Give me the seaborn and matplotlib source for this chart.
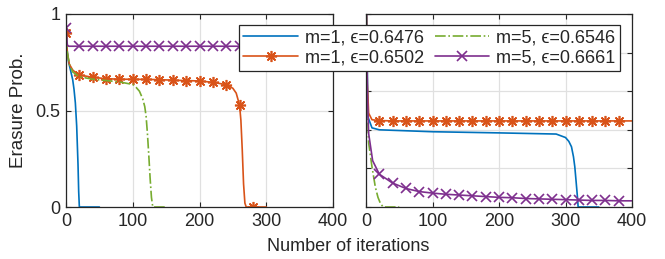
import numpy as np
import matplotlib
matplotlib.use("Agg")
import matplotlib.pyplot as plt
import seaborn as sns

# ---- data ----
labels = ["m=1, ϵ=0.6476", "m=1, ϵ=0.6502",
          "m=5, ϵ=0.6546", "m=5, ϵ=0.6661"]
colors = ["#0072BD", "#D95319", "#77AC30", "#7E2F8E"]

# left panel
l_blue_x = [0, 2, 4, 6, 8, 10, 12, 14, 16, 18, 19, 20, 50]
l_blue_y = [0.90, 0.80, 0.75, 0.72, 0.69, 0.66, 0.61, 0.54, 0.42, 0.22, 0.08, 0.0, 0.0]

l_orange_x = [0, 2, 5, 10, 15, 20, 40, 60, 80, 100, 120, 140, 160, 180, 200, 220, 240,
              250, 255, 260, 262, 264, 266, 268, 270, 280, 300]
l_orange_y = [0.90, 0.80, 0.74, 0.71, 0.695, 0.684, 0.672, 0.665, 0.662, 0.662, 0.661, 0.660,
              0.657, 0.655, 0.653, 0.646, 0.634, 0.615, 0.59, 0.528, 0.45, 0.30, 0.12, 0.02,
              0.0, 0.0, 0.0]

l_green_x = [0, 2, 5, 10, 20, 40, 60, 80, 100, 105, 110, 115, 118, 120, 122, 124, 126, 128, 130, 150]
l_green_y = [0.90, 0.80, 0.74, 0.70, 0.675, 0.662, 0.655, 0.648, 0.635, 0.62, 0.60, 0.56, 0.52,
             0.47, 0.38, 0.27, 0.15, 0.05, 0.0, 0.0]

l_purple_x = [0, 2, 4, 20, 40, 60, 80, 100, 120, 140, 160, 180, 200, 220, 240, 260, 280, 300,
              320, 340, 360, 380, 400]
l_purple_y = [0.925, 0.84, 0.833, 0.833, 0.833, 0.833, 0.833, 0.833, 0.833, 0.833, 0.833, 0.833,
              0.833, 0.833, 0.833, 0.833, 0.833, 0.833, 0.833, 0.833, 0.833, 0.833, 0.833]

# right panel
r_blue_x = [0, 3, 9, 20, 100, 200, 286, 300, 305, 309, 312, 314, 316, 318, 319, 350]
r_blue_y = [0.60, 0.233, 0.205, 0.200, 0.195, 0.192, 0.189, 0.180, 0.170, 0.156, 0.130, 0.104,
            0.065, 0.025, 0.0, 0.0]

r_orange_x = [0, 2, 4, 9, 20, 40, 60, 80, 100, 120, 140, 160, 180, 200, 220, 240, 260, 280,
              300, 320, 340, 360, 380, 400]
r_orange_y = [0.60, 0.32, 0.243, 0.226, 0.224, 0.223, 0.223, 0.223, 0.223, 0.223, 0.223, 0.223,
              0.223, 0.223, 0.223, 0.223, 0.223, 0.223, 0.223, 0.223, 0.223, 0.223, 0.223, 0.223]

r_green_x = [0, 2, 4, 9, 14, 18, 22, 26, 50]
r_green_y = [0.60, 0.26, 0.166, 0.104, 0.052, 0.025, 0.008, 0.0, 0.0]

r_purple_x = [0, 2, 4, 10, 20, 40, 60, 80, 100, 120, 140, 160, 180, 200, 220, 240, 260, 280,
              300, 320, 340, 360, 380, 400]
r_purple_y = [0.60, 0.30, 0.19, 0.12, 0.085, 0.062, 0.048, 0.040, 0.036, 0.033, 0.031, 0.029,
              0.027, 0.025, 0.024, 0.022, 0.021, 0.020, 0.019, 0.018, 0.017, 0.017, 0.016, 0.016]

left_series = [(l_blue_x, l_blue_y), (l_orange_x, l_orange_y),
               (l_green_x, l_green_y), (l_purple_x, l_purple_y)]
right_series = [(r_blue_x, r_blue_y), (r_orange_x, r_orange_y),
                (r_green_x, r_green_y), (r_purple_x, r_purple_y)]

line_styles = ["-", "-", "-.", "-"]
markers = [None, (8, 2, 0), None, "x"]
marker_sizes = [0, 8, 0, 6.5]

# ---- style ----
sns.set_style("ticks")
plt.rcParams["font.family"] = ["Liberation Sans", "DejaVu Sans"]
dark = "#262626"
fs = 13

fig = plt.figure(figsize=(6.65, 2.59), dpi=100)
ax1 = fig.add_axes([66 / 665, 1 - 207 / 259, 267 / 665, 193 / 259])
ax2 = fig.add_axes([366 / 665, 1 - 207 / 259, 266 / 665, 193 / 259])


def draw(ax, series):
    for (x, y), c, ls, mk, ms in zip(series, colors, line_styles, markers, marker_sizes):
        xa = np.asarray(x)
        sns.lineplot(x=xa, y=np.asarray(y), ax=ax, color=c, linewidth=1.2,
                     estimator=None, sort=False, legend=False)
        line = ax.get_lines()[-1]
        line.set_linestyle(ls)
        if mk:
            every = [i for i, v in enumerate(xa) if v % 20 == 0 and v < xa.max()]
            line.set_marker(mk)
            line.set_markersize(ms)
            line.set_markevery(every)
            line.set_markeredgewidth(1.2)
            line.set_markeredgecolor(c)
            line.set_markerfacecolor(c)


draw(ax1, left_series)
draw(ax2, right_series)

for ax in (ax1, ax2):
    ax.set_xlim(0, 400)
    ax.set_xticks([0, 100, 200, 300, 400])
    ax.grid(True, color="#e0e0e0", linewidth=0.9)
    ax.set_axisbelow(True)
    ax.tick_params(direction="in", top=True, right=True, length=3.5, width=0.8,
                   labelsize=fs, colors=dark, pad=4)
    for s in ax.spines.values():
        s.set_color(dark)
        s.set_linewidth(0.9)
    ax.set_xlabel("")

ax1.set_ylim(0, 1)
ax1.set_yticks([0, 0.5, 1])
ax1.set_yticklabels(["0", "0.5", "1"])
ax1.set_ylabel("Erasure Prob.", fontsize=fs + 0.5, color=dark, labelpad=6)

ax2.set_ylim(0, 0.5)
ax2.set_yticks([0, 0.1, 0.2, 0.3, 0.4, 0.5])
ax2.set_yticklabels([])

fig.text(0.523, 0.015, "Number of iterations", ha="center", va="bottom",
         fontsize=fs, color=dark)

handles = ax1.get_lines()[:4]
leg = fig.legend(handles, labels, ncol=2, loc="upper right",
                 bbox_to_anchor=(620 / 665, 1 - 25 / 259), fontsize=fs,
                 frameon=True, fancybox=False, framealpha=1, edgecolor=dark,
                 handlelength=3.0, handletextpad=0.4, columnspacing=0.6,
                 borderpad=0.25, labelspacing=0.15, borderaxespad=0)
leg.get_frame().set_linewidth(0.9)

fig.savefig("out.png", dpi=100)
